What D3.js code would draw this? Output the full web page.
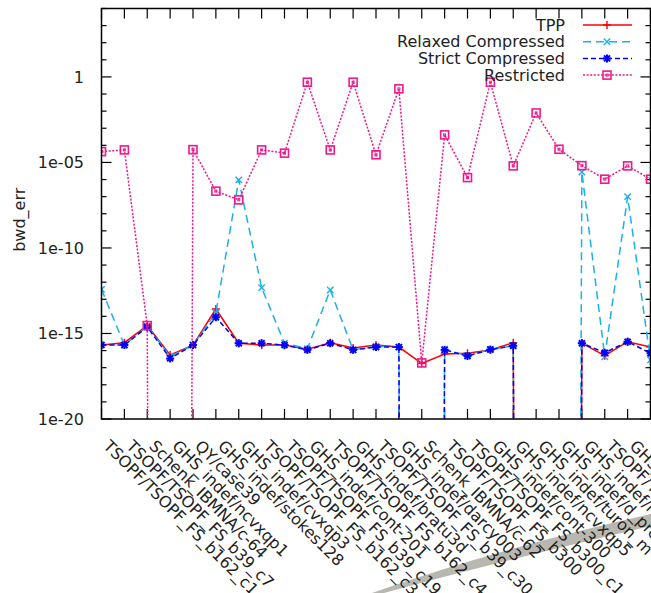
<!DOCTYPE html>
<html>
<head>
<meta charset="utf-8">
<script src="https://cdn.jsdelivr.net/npm/d3@7"></script>
<style>
  html, body { margin: 0; padding: 0; background: #fff; }
  svg { display: block; font-family: "DejaVu Sans", sans-serif; }
</style>
</head>
<body>
<div id="app"></div>
<script>
const WIDTH = 651;
const HEIGHT = 593;

// matrices on the x axis (last one falls outside the picture)
const labels = [
  'TSOPF/TSOPF_FS_b162_c1', 'TSOPF/TSOPF_FS_b39_c7', 'Schenk_IBMNA/c-64',
  'GHS_indef/ncvxqp1', 'QY/case39', 'GHS_indef/stokes128', 'GHS_indef/cvxqp3',
  'TSOPF/TSOPF_FS_b162_c3', 'TSOPF/TSOPF_FS_b39_c19', 'GHS_indef/cont-201',
  'TSOPF/TSOPF_FS_b162_c4', 'GHS_indef/bratu3d', 'TSOPF/TSOPF_FS_b39_c30',
  'GHS_indef/darcy003', 'Schenk_IBMNA/c-62', 'TSOPF/TSOPF_FS_b300',
  'TSOPF/TSOPF_FS_b300_c1', 'GHS_indef/cont-300', 'GHS_indef/ncvxqp5',
  'GHS_indef/turon_m', 'GHS_indef/d_pretok', 'GHS_indef/ncvxqp9',
  'TSOPF/TSOPF_FS_b300_c2', 'GHS_indef/ncvxqp3', 'GHS_indef/ncvxqp7'
];

// bwd_err per matrix, 0 = exact zero (drops off the log axis)
const tpp = [2.1e-16, 2.9e-16, 2.9e-15, 5.5e-17, 2.1e-16, 2.7e-14, 2.7e-16, 2.1e-16, 2.1e-16, 1.2e-16,
  2.9e-16, 1.4e-16, 2.1e-16, 1.6e-16, 1.8e-17, 6.3e-17, 7e-17, 1.1e-16, 2.9e-16, 0,
  0, 2.7e-16, 5e-17, 3.3e-16, 1.6e-16];
const relaxed = [3.8e-13, 2.1e-16, 2.7e-15, 4.5e-17, 2.1e-16, 1.6e-14, 9.6e-7, 4.8e-13, 2.7e-16, 1.3e-16,
  3.5e-13, 1.1e-16, 1.8e-16, 1.6e-16, 0, 1.2e-16, 5e-17, 1.15e-16, 1.9e-16, 0,
  0, 2.7e-6, 4.4e-17, 1e-7, 2.8e-17];
const strict = [2.1e-16, 2.1e-16, 2.4e-15, 3.5e-17, 2.1e-16, 8.9e-15, 2.7e-16, 2.7e-16, 2.1e-16, 1.1e-16,
  2.7e-16, 1.1e-16, 1.6e-16, 1.6e-16, 0, 1.1e-16, 4.8e-17, 1.15e-16, 1.9e-16, 0,
  0, 2.7e-16, 7.5e-17, 3.3e-16, 7e-17];
const restricted = [4.3e-5, 5.4e-5, 2.9e-15, 0, 5.6e-5, 2.1e-7, 6.5e-8, 5.4e-5, 3.5e-5, 0.49,
  5.4e-5, 0.49, 2.8e-5, 0.2, 1.9e-17, 4.1e-4, 1.3e-6, 0.49, 6.3e-6, 7.8e-3,
  5.9e-5, 6.5e-6, 1.05e-6, 6.3e-6, 1.05e-6];

const yTickValues = [1e-20, 1e-15, 1e-10, 1e-5, 1];
const yTickLabels = ['1e-20', '1e-15', '1e-10', '1e-05', '1'];

const series = [
  { name: 'TPP', values: tpp, color: '#ff0000', dash: null, marker: 'plus' },
  { name: 'Relaxed Compressed', values: relaxed, color: '#1ab0e8', dash: '8,5', marker: 'cross' },
  { name: 'Strict Compressed', values: strict, color: '#0000ff', dash: '5,3', marker: 'star' },
  { name: 'Restricted', values: restricted, color: '#f0188c', dash: '2,1.6', marker: 'square' }
];

const LEFT = 101.5, RIGHT = 650.5, TOP = 8.5, BOTTOM = 419;
const FLOOR = 1e-300;

const svg = d3.select('#app')
  .append('svg')
    .attr('width', WIDTH)
    .attr('height', HEIGHT);

const x = d3.scaleLinear()
  .domain([0, labels.length - 1])
  .range([LEFT, RIGHT]);

const y = d3.scaleLog()
  .domain([1e-20, 1e4])
  .range([BOTTOM, TOP]);

// the grey swoosh across the bottom right
svg.append('path')
  .attr('d', 'M372,593 Q500,548 651,514 L651,526 Q505,560 384,593 Z')
  .attr('fill', '#b8b8b0');

svg.append('clipPath')
  .attr('id', 'plot-clip')
  .append('rect')
    .attr('x', LEFT)
    .attr('y', TOP)
    .attr('width', RIGHT - LEFT)
    .attr('height', BOTTOM - TOP);

// y axis, left and mirrored right
const minorTicks = d3.range(-20, 5).map(e => Math.pow(10, e));
const yAxisLeft = d3.axisLeft(y).tickValues(minorTicks).tickSize(0).tickFormat('');
svg.append('g')
  .attr('transform', `translate(${LEFT},0)`)
  .call(yAxisLeft)
  .call(g => g.select('.domain').remove());

const ticks = svg.append('g').attr('stroke', '#000').attr('stroke-width', 1.2);
minorTicks.forEach(v => {
  const major = yTickValues.includes(v);
  const len = major ? 10 : 5;
  ticks.append('line').attr('x1', LEFT).attr('x2', LEFT + len).attr('y1', y(v)).attr('y2', y(v));
  ticks.append('line').attr('x1', RIGHT).attr('x2', RIGHT - len).attr('y1', y(v)).attr('y2', y(v));
});
labels.forEach((d, i) => {
  ticks.append('line').attr('x1', x(i)).attr('x2', x(i)).attr('y1', BOTTOM).attr('y2', BOTTOM - 10);
  ticks.append('line').attr('x1', x(i)).attr('x2', x(i)).attr('y1', TOP).attr('y2', TOP + 10);
});

svg.append('g')
  .selectAll('text')
  .data(yTickValues)
  .enter()
    .append('text')
    .attr('x', 84)
    .attr('y', d => y(d))
    .attr('dy', '0.36em')
    .attr('text-anchor', 'end')
    .attr('font-size', 16)
    .attr('fill', '#222')
    .text((d, i) => yTickLabels[i]);

svg.append('text')
  .attr('transform', `translate(25,${(TOP + BOTTOM) / 2 + 6}) rotate(-90)`)
  .attr('text-anchor', 'middle')
  .attr('font-size', 16)
  .attr('fill', '#222')
  .text('bwd_err');

// x tick labels, rotated down-right
svg.append('g')
  .selectAll('text')
  .data(labels)
  .enter()
    .append('text')
    .attr('transform', (d, i) => `translate(${x(i) + 1},${447}) rotate(45)`)
    .attr('font-size', 16)
    .attr('fill', '#222')
    .text(d => d);

// series lines and markers
const line = d3.line()
  .x((d, i) => x(i))
  .y(d => y(Math.max(d, FLOOR)));

function drawMarker(g, type, cx, cy, color) {
  const m = g.append('g').attr('transform', `translate(${cx},${cy})`)
    .attr('stroke', color).attr('fill', 'none').attr('stroke-width', 1.4);
  const s = 4;
  if (type === 'plus' || type === 'star') {
    m.append('line').attr('x1', -s).attr('x2', s).attr('y1', 0).attr('y2', 0);
    m.append('line').attr('x1', 0).attr('x2', 0).attr('y1', -s).attr('y2', s);
  }
  if (type === 'cross' || type === 'star') {
    const c = type === 'star' ? 3 : 3.2;
    m.append('line').attr('x1', -c).attr('x2', c).attr('y1', -c).attr('y2', c);
    m.append('line').attr('x1', -c).attr('x2', c).attr('y1', c).attr('y2', -c);
  }
  if (type === 'star') m.attr('stroke-width', 2);
  if (type === 'square') {
    m.append('rect').attr('x', -4).attr('y', -4).attr('width', 8).attr('height', 8).attr('stroke-width', 1.6);
    m.append('rect').attr('x', -1).attr('y', -1).attr('width', 2).attr('height', 2).attr('stroke-width', 1);
  }
}

const plot = svg.append('g').attr('clip-path', 'url(#plot-clip)');
series.forEach(s => {
  plot.append('path')
    .datum(s.values)
    .attr('d', line)
    .attr('fill', 'none')
    .attr('stroke', s.color)
    .attr('stroke-width', 1.5)
    .attr('stroke-dasharray', s.dash);
  const mg = plot.append('g');
  s.values.forEach((v, i) => {
    if (v > 0) drawMarker(mg, s.marker, x(i), y(v), s.color);
  });
});

// frame
svg.append('rect')
  .attr('x', LEFT)
  .attr('y', TOP)
  .attr('width', RIGHT - LEFT)
  .attr('height', BOTTOM - TOP)
  .attr('fill', 'none')
  .attr('stroke', '#000')
  .attr('stroke-width', 1.5);

// legend
const legend = svg.append('g');
series.forEach((s, i) => {
  const ly = 25 + i * 16.7;
  legend.append('text')
    .attr('x', 565)
    .attr('y', ly)
    .attr('dy', '0.36em')
    .attr('text-anchor', 'end')
    .attr('font-size', 16)
    .attr('fill', '#222')
    .text(s.name);
  legend.append('line')
    .attr('x1', 583).attr('x2', 632)
    .attr('y1', ly).attr('y2', ly)
    .attr('stroke', s.color)
    .attr('stroke-width', 1.5)
    .attr('stroke-dasharray', s.dash);
  drawMarker(legend, s.marker, 607, ly, s.color);
});
</script>
</body>
</html>
